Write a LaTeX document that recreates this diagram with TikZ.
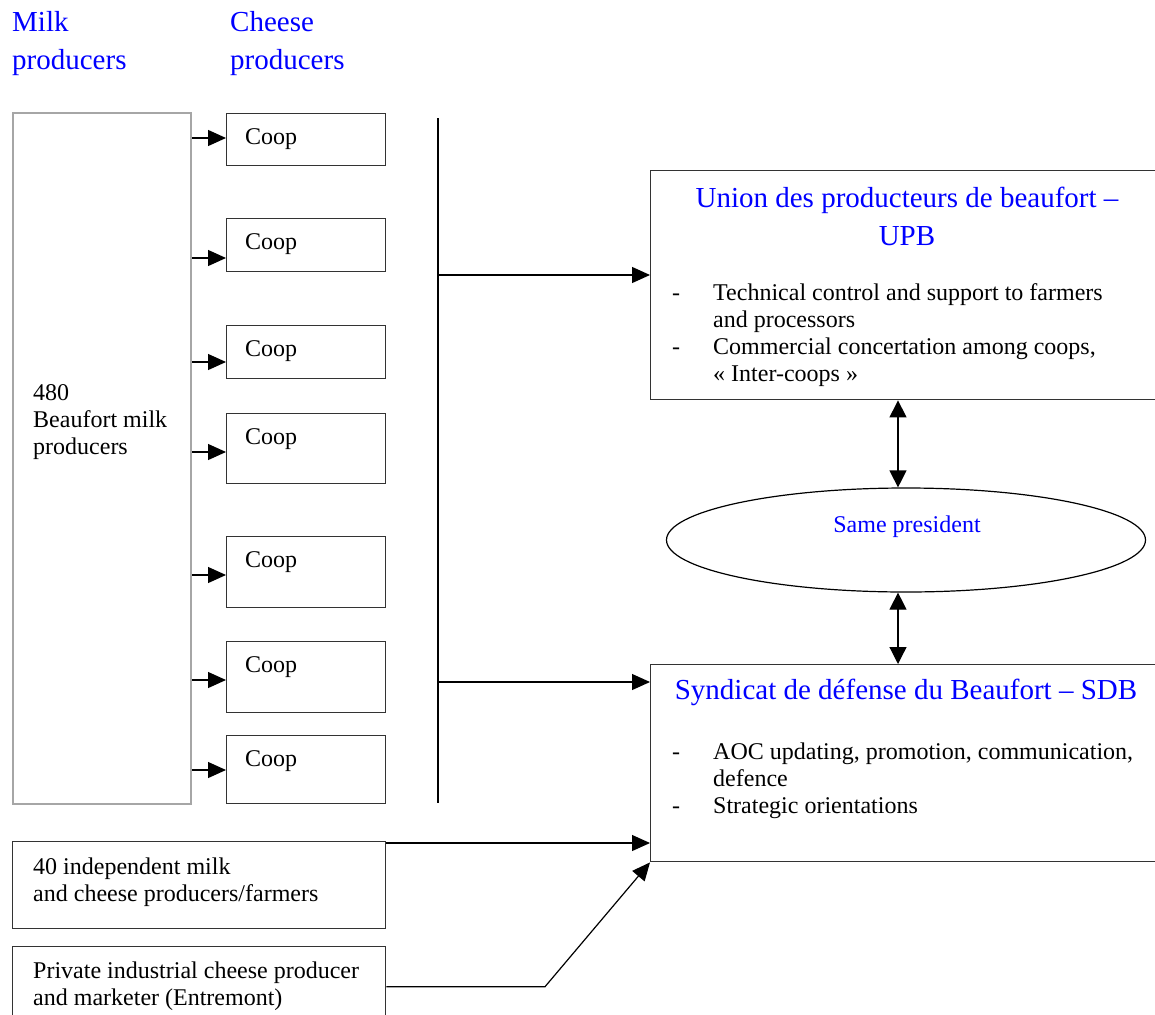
\documentclass[tikz,border=0pt]{standalone}
\usepackage{fontspec}
\setmainfont{Liberation Serif}
\usetikzlibrary{arrows.meta,shapes.geometric}

\newcommand{\txt}{\fontsize{24}{27}\selectfont}
\newcommand{\headtxt}{\fontsize{29}{38}\selectfont}
\newcommand{\bul}{\makebox[41pt][l]{-}}
\newcommand{\ind}{\hspace*{41pt}}

\begin{document}
\begin{tikzpicture}[x=1pt, y=-1pt, every node/.style={font=\txt, inner sep=0pt},
    box/.style={draw=black!80, line width=1.4pt, anchor=north west},
    title/.style={blue, font=\headtxt, align=left, anchor=north west},
    arr/.style={-{Triangle[length=18pt,width=16pt]}, line width=1.2pt},
    twoway/.style={{Triangle[length=17pt,width=17pt]}-{Triangle[length=17pt,width=17pt]}, line width=1.2pt}]
    \useasboundingbox (0,0) rectangle (1155,1014);

    % Column titles
    \node[title] (milktitle) at (12,11) {Milk\\producers};
    \node[title] (cheesetitle) at (230,11) {Cheese\\producers};

    % Milk producers
    \node[box, draw=gray!70, line width=2pt, minimum width=178pt, minimum height=691pt] (milk) at (12,112) {};
    \node[anchor=north west, align=left] (milktext) at (33,384) {480\\Beaufort milk\\producers};

    % Coops
    \foreach \i/\yt/\h/\ya in {1/113/52/138, 2/218/53/258, 3/325/53/362, 4/413/70/452, 5/536/71/575, 6/641/71/680, 7/735/68/770} {
        \node[box, minimum width=159pt, minimum height=\h pt] (coop\i) at (226,\yt) {};
        \node[anchor=west] (cooplabel\i) at (245,\yt+26) {Coop};
        \draw[arr] (milk.east |- 0,\ya) -- (coop\i.west |- 0,\ya);
    }

    % Collecting bar
    \coordinate (bartop) at (438,118);
    \coordinate (barbot) at (438,803);
    \draw[line width=1.2pt] (bartop) -- (barbot);

    % UPB
    \node[box, minimum width=520pt, minimum height=229pt] (upb) at (650,170) {};
    \node[blue, font=\headtxt, align=center] (upbtitle) at (907,216) {Union des producteurs de beaufort \textendash\\UPB};
    \node[anchor=north west, align=left] (upbtasks) at (672,283) {\bul Technical control and support to farmers\\\ind and processors\\\bul Commercial concertation among coops,\\\ind « Inter-coops »};

    % Same president
    \node[draw, ellipse, line width=1.2pt, minimum width=479pt, minimum height=104pt] (same) at (906,540) {};
    \node[blue] (sametext) at (907,527) {Same president};

    % SDB
    \node[box, minimum width=520pt, minimum height=197pt] (sdb) at (650,664) {};
    \node[blue, font=\headtxt] (sdbtitle) at (906,692) {Syndicat de défense du Beaufort \textendash{} SDB};
    \node[anchor=north west, align=left] (sdbtasks) at (672,743) {\bul AOC updating, promotion, communication,\\\ind defence\\\bul Strategic orientations};

    % Other producers
    \node[box, minimum width=373pt, minimum height=87pt] (indep) at (12,841) {};
    \node[anchor=north west, align=left] (indeptext) at (33,858) {40 independent milk\\and cheese producers/farmers};
    \node[box, minimum width=373pt, minimum height=80pt] (private) at (12,946) {};
    \node[anchor=north west, align=left] (privatetext) at (33,962) {Private industrial cheese producer\\and marketer (Entremont)};

    % Links
    \draw[arr] (bartop |- 0,275) -- (upb.west |- 0,275);
    \draw[arr] (bartop |- 0,682) -- (sdb.west |- 0,682);
    \draw[twoway] (upb.south -| 898,0) -- (same.north -| 898,0);
    \draw[twoway] (same.south -| 898,0) -- (sdb.north -| 898,0);
    \draw[arr] (indep.north east |- 0,843) -- (sdb.west |- 0,843);
    \coordinate (bend) at (545,984);
    \draw[arr] (private.east) -- (bend |- private.east) -- (sdb.south west);
\end{tikzpicture}
\end{document}
